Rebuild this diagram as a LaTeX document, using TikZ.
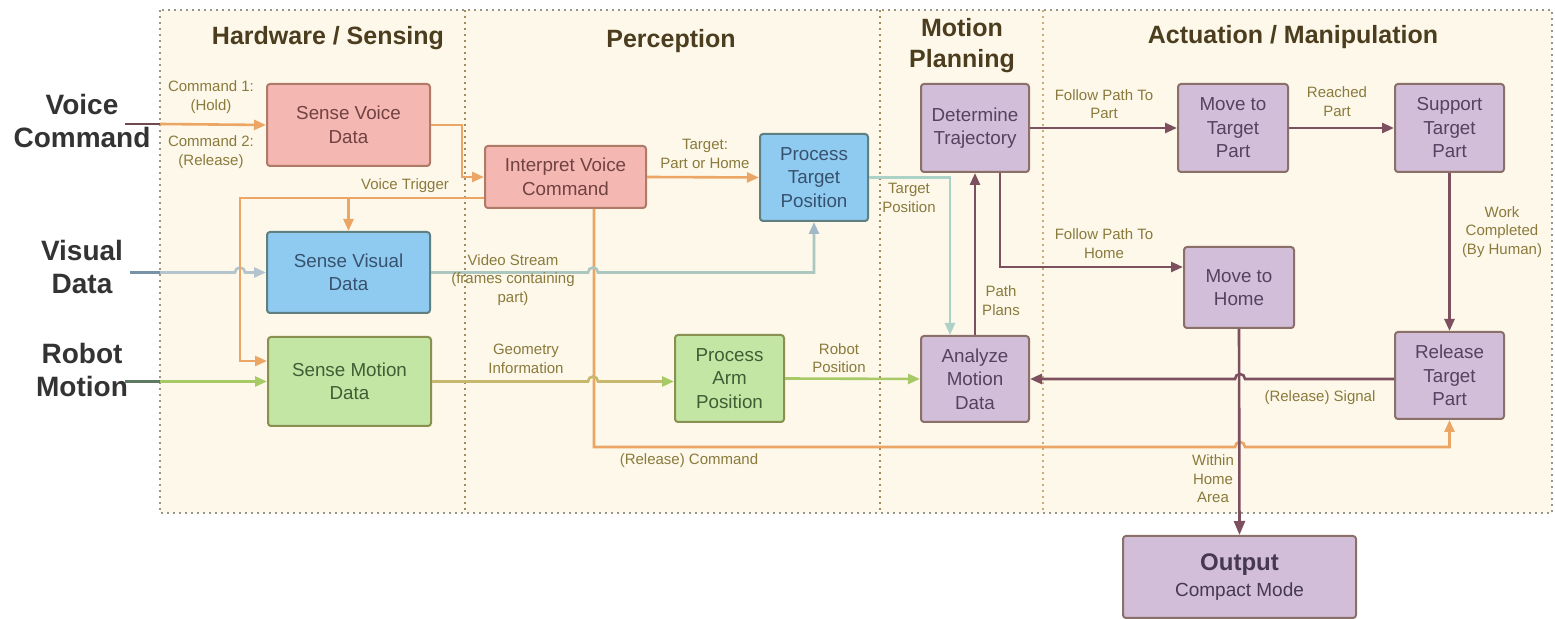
\documentclass[tikz,border=0pt]{standalone}
\usepackage{fontspec}
\setmainfont{Liberation Sans}
\usetikzlibrary{arrows.meta}

\definecolor{panelC}{RGB}{253,248,234}
\definecolor{frameC}{RGB}{150,150,140}
\definecolor{sepC}{RGB}{200,175,120}
\definecolor{orangeC}{RGB}{235,166,102}
\definecolor{purpleC}{RGB}{125,80,96}
\definecolor{videoC}{RGB}{172,198,192}
\definecolor{vidtipC}{RGB}{160,184,200}
\definecolor{visinC}{RGB}{180,196,204}
\definecolor{visoutC}{RGB}{120,146,168}
\definecolor{tgtC}{RGB}{172,210,200}
\definecolor{geoC}{RGB}{200,184,110}
\definecolor{greenC}{RGB}{168,202,102}
\definecolor{rmoutC}{RGB}{94,122,98}
\definecolor{vcoutC}{RGB}{110,74,78}
\definecolor{lblC}{RGB}{138,122,60}
\definecolor{ttlC}{RGB}{75,61,30}
\definecolor{sideC}{RGB}{51,51,51}
\definecolor{pinkF}{RGB}{245,183,177}
\definecolor{pinkD}{RGB}{176,122,104}
\definecolor{pinkT}{RGB}{112,66,66}
\definecolor{blueF}{RGB}{143,203,240}
\definecolor{blueD}{RGB}{95,127,128}
\definecolor{blueT}{RGB}{55,82,110}
\definecolor{greenF}{RGB}{195,230,165}
\definecolor{greenD}{RGB}{138,144,80}
\definecolor{greenT}{RGB}{64,94,52}
\definecolor{purpF}{RGB}{210,190,216}
\definecolor{purpD}{RGB}{138,112,104}
\definecolor{purpT}{RGB}{84,66,96}

\newcommand\lblfnt{\fontsize{7.5}{9.25}\selectfont}
\newcommand\boxfnt{\fontsize{9.4}{11.75}\selectfont}
\newcommand\ttlfnt{\fontsize{12.5}{15.5}\selectfont\bfseries}
\newcommand\sidefnt{\fontsize{14}{16.5}\selectfont\bfseries}

\tikzset{
  box/.style={draw, rounded corners=1.5pt, line width=1pt, align=center,
    inner sep=0pt, font=\boxfnt},
  pinkbox/.style={box, fill=pinkF, draw=pinkD, text=pinkT},
  bluebox/.style={box, fill=blueF, draw=blueD, text=blueT},
  greenbox/.style={box, fill=greenF, draw=greenD, text=greenT},
  purpbox/.style={box, fill=purpF, draw=purpD, text=purpT},
  lbl/.style={text=lblC, font=\lblfnt, align=center, inner sep=0pt},
  ttl/.style={text=ttlC, font=\ttlfnt, align=center, inner sep=0pt},
  side/.style={text=sideC, font=\sidefnt, align=center, inner sep=0pt},
  wire/.style={line width=1.3pt},
  flow/.style={wire, -{Triangle[length=6pt,width=5pt]}},
  ora/.style={flow, draw=orangeC, color=orangeC},
  pur/.style={flow, draw=purpleC, color=purpleC},
  dotline/.style={line width=0.8pt, dash pattern=on 0.8pt off 2.2pt},
}

\begin{document}
\begin{tikzpicture}[x=0.5pt,y=-0.5pt]
\useasboundingbox (0,0) rectangle (1555,619);

% swimlane panel
\fill[panelC] (160,10) rectangle (1552,513);
\draw[dotline, frameC] (160,10) rectangle (1552,513);
\draw[dotline, sepC!80!black] (465,10) -- (465,513);
\draw[dotline, sepC!80!black] (880,10) -- (880,513);
\draw[dotline, sepC] (1043,10) -- (1043,513);

% lane titles
\node[ttl] (t1) at (328,38) {Hardware / Sensing};
\node[ttl] (t2) at (671,41) {Perception};
\node[ttl] (t3) at (962,46) {Motion\\Planning};
\node[ttl] (t4) at (1293,37) {Actuation / Manipulation};

% external inputs
\node[side] (s1) at (82,121) {Voice\\Command};
\node[side] (s2) at (82,267) {Visual\\Data};
\node[side] (s3) at (82,369.5) {Robot\\Motion};
\coordinate (vcin) at (125,124);
\coordinate (vcedge) at (160,124);
\coordinate (vdin) at (130,272.5);
\coordinate (vdedge) at (160,272.5);
\coordinate (rmin) at (125,381.5);
\coordinate (rmedge) at (160,381.5);

% process boxes
\node[pinkbox, minimum width=81.5pt, minimum height=41pt] (svo) at (348.5,125) {Sense Voice\\Data};
\node[bluebox, minimum width=81.5pt, minimum height=40.5pt] (svi) at (348.5,272.5) {Sense Visual\\Data};
\node[greenbox, minimum width=81.5pt, minimum height=44.5pt] (smo) at (349.5,381.5) {Sense Motion\\Data};
\node[pinkbox, minimum width=80.5pt, minimum height=31pt] (ivc) at (565.5,177) {Interpret Voice\\Command};
\node[bluebox, minimum width=54pt, minimum height=43.5pt] (ptp) at (814,177.5) {Process\\Target\\Position};
\node[greenbox, minimum width=54.5pt, minimum height=43.5pt] (pap) at (729.5,378.5) {Process\\Arm\\Position};
\node[purpbox, minimum width=54pt, minimum height=44pt] (dtr) at (975,128) {Determine\\Trajectory};
\node[purpbox, minimum width=54pt, minimum height=43pt] (amd) at (975,379) {Analyze\\Motion\\Data};
\node[purpbox, minimum width=55pt, minimum height=44pt] (mtp) at (1233,128) {Move to\\Target\\Part};
\node[purpbox, minimum width=54.5pt, minimum height=44pt] (stp) at (1449.5,128) {Support\\Target\\Part};
\node[purpbox, minimum width=55pt, minimum height=40.5pt] (mth) at (1239,287.5) {Move to\\Home};
\node[purpbox, minimum width=54.5pt, minimum height=43.5pt] (rtp) at (1449.5,375.5) {Release\\Target\\Part};
\node[purpbox, minimum width=116.5pt, minimum height=41pt, text=purpT!85!black] (out) at (1239.5,577)
  {{\fontsize{12}{13}\selectfont\bfseries Output}\\[1.5pt]{\fontsize{9.5}{11}\selectfont Compact Mode}};

% inputs into the sensing boxes
\draw[wire, vcoutC] (vcin) -- (vcedge);
\draw[ora] (vcedge) -- (svo.west);
\draw[wire, visoutC] (vdin) -- (vdedge);
\draw[flow, visinC] (vdedge) -- (235,272.5) arc[start angle=180, end angle=0, radius=2.5pt] -- (svi.west);
\draw[wire, rmoutC] (rmin) -- (rmedge);
\draw[flow, greenC] (rmedge) -- (smo.west);

% voice path
\draw[ora] (svo.east) -| (462,177) -- (ivc.west);
\draw[ora] ([yshift=-10.5pt]ivc.west) -- (240,198) -- (240,361) -- ([yshift=10.25pt]smo.west);
\draw[ora] (svi.north |- 0,198) -- (svi.north);
\draw[ora] (ivc.east) -- (ptp.west);
\draw[ora] ([xshift=14.25pt]ivc.south) -- (594,447) -- (1235,447)
  arc[start angle=180, end angle=0, radius=2.5pt] -| (rtp.south);

% perception streams
\draw[wire, videoC, -{Triangle[length=6pt,width=5pt,color=vidtipC]}] (svi.east) -- (588,272.5)
  arc[start angle=180, end angle=0, radius=2.5pt] -| (ptp.south);
\draw[wire, geoC, -{Triangle[length=6pt,width=5pt,color=greenC]}] (smo.east) -- (588,381.5)
  arc[start angle=180, end angle=0, radius=2.5pt] -- (pap.west |- smo.east);
\draw[flow, greenC] (pap.east) -- (amd.west);
\draw[flow, tgtC] (ptp.east) -| ([xshift=-12.5pt]amd.north);

% planning and actuation
\draw[pur] (amd.north) -- (dtr.south);
\draw[pur] (dtr.east) -- (mtp.west);
\draw[pur] ([xshift=12.5pt]dtr.south) |- ([yshift=10.25pt]mth.west);
\draw[pur] (mtp.east) -- (stp.west);
\draw[pur] (stp.south) -- (rtp.north);
\draw[pur] (rtp.west |- amd.east) -- (1245,379) arc[start angle=0, end angle=180, radius=2.5pt]
  -- (amd.east);
\draw[wire, purpleC, -{Triangle[length=7pt,width=5.5pt]}] (mth.south) -- (out.north);

% connector labels
\node[lbl] (l1) at (211,97) {Command 1:\\(Hold)};
\node[lbl] (l2) at (211,152) {Command 2:\\(Release)};
\node[lbl] (l3) at (405,186) {Voice Trigger};
\node[lbl] (l4) at (513,280) {Video Stream\\(frames containing\\part)};
\node[lbl] (l5) at (526,359) {Geometry\\Information};
\node[lbl] (l6) at (839,358) {Robot\\Position};
\node[lbl] (l7) at (689,461) {(Release) Command};
\node[lbl] (l8) at (705,154) {Target:\\Part or Home};
\node[lbl] (l9) at (909,198) {Target\\Position};
\node[lbl] (l10) at (1001,300.5) {Path\\Plans};
\node[lbl] (l11) at (1104,104) {Follow Path To\\Part};
\node[lbl] (l12) at (1104,243.5) {Follow Path To\\Home};
\node[lbl] (l13) at (1337,101.5) {Reached\\Part};
\node[lbl] (l14) at (1502,232) {Work\\Completed\\(By Human)};
\node[lbl] (l15) at (1320,398) {(Release) Signal};
\node[lbl] (l16) at (1213,479) {Within\\Home\\Area};
\end{tikzpicture}
\end{document}
